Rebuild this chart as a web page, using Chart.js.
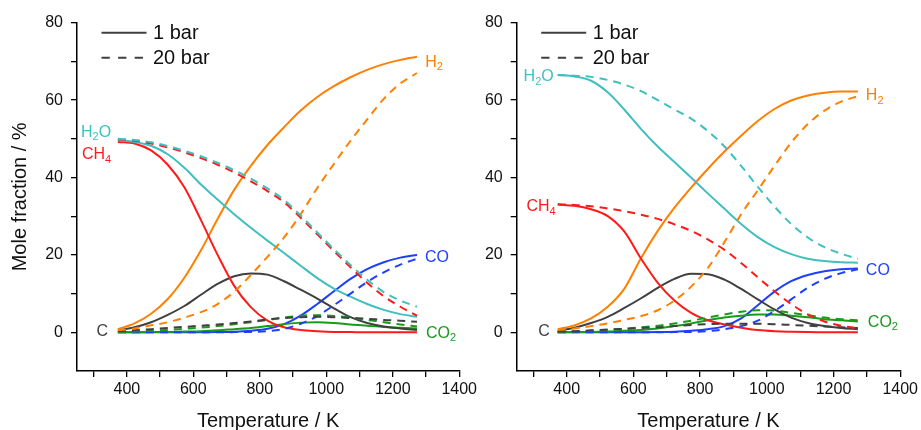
<!DOCTYPE html>
<html><head><meta charset="utf-8">
<script src="https://cdn.jsdelivr.net/npm/chart.js@4.4.1/dist/chart.umd.min.js"></script>
<style>
html,body{margin:0;padding:0;background:#fff;width:921px;height:430px;overflow:hidden}
canvas{position:absolute;top:0}
#cL{left:0}
#cR{left:460px}
</style></head><body>
<canvas id="cL" width="480" height="430"></canvas>
<canvas id="cR" width="461" height="430"></canvas>
<script>
// ---------- data (Temperature / K, Mole fraction / %) ----------
const temperature = [373,423,473,523,573,623,673,723,773,823,873,923,973,1023,1073,1123,1173,1223,1273];
const xTickValues = [300,400,500,600,700,800,900,1000,1100,1200,1300,1400];
const xTickLabels = [400,600,800,1000,1200,1400];
const yTickValues = [0,10,20,30,40,50,60,70,80];
const yTickLabels = [0,20,40,60,80];
const legendLabels = ['1 bar','20 bar'];

// left panel
const h2_1bar_L   = [0.8,2.3,4.8,8.6,14.1,21.2,29.3,36.8,43,48.4,53,57.3,60.8,63.6,65.9,67.8,69.3,70.4,71.2];
const h2_20bar_L  = [0.5,1,1.8,2.6,3.8,5.2,7.3,10.5,14.8,19.5,24.5,30.5,37.3,43.5,49.5,55,60.3,64.3,67];
const ch4_1bar_L  = [49.2,48.8,47,43.3,37.5,29,20,12,6.5,3,1.3,0.6,0.3,0.1,0.05,0,0,0,0];
const ch4_20bar_L = [49.9,49.5,48.8,47.8,46.5,45,43.3,41.3,39,36.5,33.6,29.6,25.3,21,16.8,12.8,9.3,6.6,4.3];
const h2o_1bar_L  = [49.7,49.2,48.2,46,42.5,38.2,34.3,30.5,27,23.7,20.5,17.2,14,11.3,9.2,7.3,5.8,4.7,4];
const h2o_20bar_L = [50,49.7,49.1,48.1,46.9,45.5,43.8,41.9,39.7,37.2,34.2,30.2,25.8,21.5,17.4,13.6,10.4,8.2,6.6];
const c_1bar_L    = [0.5,1.3,2.6,4.5,6.8,9.7,12.5,14.5,15.2,14.9,13.2,11,8.7,6.2,3.9,2.4,1.5,1,0.6];
const c_20bar_L   = [0.3,0.5,0.8,1.1,1.4,1.7,2,2.4,2.8,3.3,3.7,3.9,4,3.9,3.7,3.5,3.2,3,2.7];
const co_1bar_L   = [0,0,0,0,0,0.02,0.05,0.15,0.4,0.9,2.1,4.3,7.3,10.6,13.8,16.3,18.1,19.3,20];
const co_20bar_L  = [0,0,0,0,0,0,0.02,0.05,0.1,0.3,0.9,2.2,4.2,7,10,13,15.5,17.5,19];
const co2_1bar_L  = [0,0,0.05,0.1,0.2,0.3,0.5,0.8,1.1,1.6,2.1,2.5,2.6,2.4,2,1.7,1.4,1.2,1];
const co2_20bar_L = [0.1,0.2,0.4,0.6,0.9,1.2,1.6,2.1,2.6,3.2,3.8,4.3,4.4,4.2,3.8,3.2,2.6,2,1.5];

// right panel
const h2_1bar_R   = [0.8,1.8,3.6,6.6,11.3,19.2,26.2,32.2,37.4,42.2,46.7,50.8,54.6,57.7,59.9,61.2,61.9,62.2,62.2];
const h2_20bar_R  = [0.6,1,1.6,2.3,3.2,4.2,5.7,8.2,11.8,16.6,23.3,30.5,36.7,43,49,53.8,57.3,59.6,61];
const ch4_1bar_R  = [33,32.7,31.8,30,26,19,12.8,8.2,5,3.1,2,1.2,0.6,0.3,0.15,0.05,0,0,0];
const ch4_20bar_R = [33.1,32.9,32.6,32,31.3,30.4,29.3,27.9,26.2,24,21.3,17.9,14.2,10.6,7.3,4.6,2.8,1.7,1];
const h2o_1bar_R  = [66.5,66.1,65,62,57.5,52.5,48,44,40,35.9,31.9,28,24.6,22,20.2,19,18.4,18.1,18];
const h2o_20bar_R = [66.5,66.3,66,65.2,64,62.3,60,57.6,55.2,52,48,43,37.6,32.5,28,24.5,22,20.3,19];
const c_1bar_R    = [0.4,1.2,2.4,4,6.3,8.8,11.5,13.8,15.1,15,13.6,11.2,8.5,5.9,3.8,2.4,1.6,1.1,0.8];
const c_20bar_R   = [0.2,0.3,0.5,0.7,0.9,1.1,1.3,1.6,1.9,2.1,2.2,2.2,2.2,2.1,1.9,1.7,1.5,1.3,1.1];
const co_1bar_R   = [0,0,0,0,0,0.02,0.05,0.15,0.4,0.8,1.6,3.6,7,10.5,13.2,14.8,15.8,16.3,16.5];
const co_20bar_R  = [0,0,0,0,0,0,0.02,0.05,0.1,0.3,0.8,1.6,3,5.5,8.5,11.5,13.8,15.3,16.3];
const co2_1bar_R  = [0,0.05,0.1,0.2,0.4,0.6,1,1.6,2.3,3.1,3.8,4.3,4.6,4.6,4.3,3.9,3.4,3.1,2.8];
const co2_20bar_R = [0.1,0.2,0.4,0.6,0.9,1.3,1.7,2.3,3,3.8,4.6,5.3,5.7,5.6,5,4.4,3.8,3.4,3.1];

// ---------- styles ----------
const COL = {H2:'#FF8000', H2O:'#3FBFBF', CH4:'#FF1A1A', CO:'#1F3FFF', CO2:'#1A9A1A', C:'#404040'};
const FONT = "'Liberation Sans', Arial, Helvetica, sans-serif";
const DASH = [8,6];
Chart.defaults.font.family = FONT;
Chart.defaults.color = '#111';

function ds(name, values, dashed) {
  return {
    label: name + (dashed ? ' 20 bar' : ' 1 bar'),
    data: temperature.map((t,i)=>({x:t, y:values[i]})),
    borderColor: COL[name], backgroundColor: COL[name],
    borderWidth: 2, borderDash: dashed ? DASH : [],
    pointRadius: 0, cubicInterpolationMode: 'monotone', fill: false
  };
}

function labelPlugin(items) {
  return {
    id: 'speciesLabels',
    afterDatasetsDraw(chart) {
      const ctx = chart.ctx, xs = chart.scales.x, ys = chart.scales.y;
      ctx.save();
      ctx.textBaseline = 'middle';
      items.forEach(it => {
        const idx = it.end === 'first' ? 0 : temperature.length - 1;
        const ax = xs.getPixelForValue(temperature[idx]) + it.dx;
        const ay = ys.getPixelForValue(it.values[idx]) + it.dy;
        const mainF = '16px ' + FONT, subF = '11px ' + FONT;
        let w = 0;
        it.parts.forEach(p => { ctx.font = p.sub ? subF : mainF; w += ctx.measureText(p.t).width; });
        let x = it.align === 'right' ? ax - w : ax;
        ctx.fillStyle = it.color;
        ctx.textAlign = 'left';
        it.parts.forEach(p => {
          ctx.font = p.sub ? subF : mainF;
          ctx.fillText(p.t, x, p.sub ? ay + 5 : ay);
          x += ctx.measureText(p.t).width;
        });
      });
      ctx.restore();
    }
  };
}

const legendPlugin = {
  id: 'pressureLegend',
  afterDraw(chart) {
    const ctx = chart.ctx, a = chart.chartArea;
    ctx.save();
    [[legendLabels[0], []], [legendLabels[1], [8.3,8.3]]].forEach((item, i) => {
      const y = a.top + 10 + i * 25;
      ctx.strokeStyle = '#404040'; ctx.lineWidth = 2; ctx.setLineDash(item[1]);
      ctx.beginPath(); ctx.moveTo(a.left + 24.5, y); ctx.lineTo(a.left + 69.5, y); ctx.stroke();
      ctx.setLineDash([]);
      ctx.fillStyle = '#111'; ctx.font = '20px ' + FONT; ctx.textBaseline = 'middle'; ctx.textAlign = 'left';
      ctx.fillText(item[0], a.left + 76, y + 1);
    });
    ctx.restore();
  }
};

function makeChart(id, sets, yAxisWidth, showYTitle, labels) {
  return new Chart(document.getElementById(id), {
    type: 'line',
    data: { datasets: sets },
    plugins: [labelPlugin(labels), legendPlugin],
    options: {
      responsive: false, animation: false, devicePixelRatio: 1,
      layout: { padding: { top: 22.7, right: 20, bottom: 0, left: 0 } },
      plugins: { legend: { display: false }, tooltip: { enabled: false } },
      scales: {
        x: {
          type: 'linear', min: 250, max: 1400,
          afterBuildTicks: s => { s.ticks = xTickValues.map(v => ({value: v})); },
          afterFit: s => { s.height = 59; },
          ticks: { autoSkip: false, maxRotation: 0, padding: 3,
                   font: { size: 16 }, color: '#111',
                   callback: v => xTickLabels.includes(v) ? String(v) : '' },
          grid: { display: true, drawOnChartArea: false, drawTicks: true, tickLength: 6, color: '#000', lineWidth: 1.3 },
          border: { display: true, color: '#000', width: 1.5 },
          title: { display: true, text: 'Temperature / K', font: { size: 20, lineHeight: 1.2 }, color: '#111', padding: { top: 0, bottom: -3 } }
        },
        y: {
          type: 'linear', min: -10, max: 80,
          afterBuildTicks: s => { s.ticks = yTickValues.map(v => ({value: v})); },
          afterFit: s => { s.width = yAxisWidth; },
          ticks: { autoSkip: false, padding: 8, font: { size: 16 }, color: '#111',
                   callback: v => yTickLabels.includes(v) ? String(v) : '' },
          grid: { display: true, drawOnChartArea: false, drawTicks: true, tickLength: 6, color: '#000', lineWidth: 1.3 },
          border: { display: true, color: '#000', width: 1.5 },
          title: { display: showYTitle, text: 'Mole fraction / %', font: { size: 20, lineHeight: 1.2 }, color: '#111', padding: { top: 8, bottom: 0 } }
        }
      }
    }
  });
}

makeChart('cL', [
  ds('H2O', h2o_20bar_L, true), ds('CH4', ch4_20bar_L, true), ds('H2', h2_20bar_L, true),
  ds('C', c_20bar_L, true), ds('CO2', co2_20bar_L, true), ds('CO', co_20bar_L, true),
  ds('H2O', h2o_1bar_L, false), ds('CH4', ch4_1bar_L, false), ds('H2', h2_1bar_L, false),
  ds('C', c_1bar_L, false), ds('CO2', co2_1bar_L, false), ds('CO', co_1bar_L, false)
], 77, true, [
  { parts:[{t:'H'},{t:'2',sub:true}], color:COL.H2, values:h2_1bar_L, end:'last', dx:8.3, dy:5.7 },
  { parts:[{t:'CO'}], color:COL.CO, values:co_1bar_L, end:'last', dx:8, dy:2.6 },
  { parts:[{t:'CO'},{t:'2',sub:true}], color:COL.CO2, values:co2_1bar_L, end:'last', dx:9, dy:5 },
  { parts:[{t:'C'}], color:COL.C, values:c_1bar_L, end:'first', dx:-9.7, dy:1.6, align:'right' },
  { parts:[{t:'H'},{t:'2',sub:true},{t:'O'}], color:COL.H2O, values:h2o_1bar_L, end:'first', dx:-6.7, dy:-7.5, align:'right' },
  { parts:[{t:'CH'},{t:'4',sub:true}], color:COL.CH4, values:ch4_1bar_L, end:'first', dx:-6.7, dy:12.6, align:'right' }
]);

makeChart('cR', [
  ds('H2O', h2o_20bar_R, true), ds('CH4', ch4_20bar_R, true), ds('H2', h2_20bar_R, true),
  ds('C', c_20bar_R, true), ds('CO2', co2_20bar_R, true), ds('CO', co_20bar_R, true),
  ds('H2O', h2o_1bar_R, false), ds('CH4', ch4_1bar_R, false), ds('H2', h2_1bar_R, false),
  ds('C', c_1bar_R, false), ds('CO2', co2_1bar_R, false), ds('CO', co_1bar_R, false)
], 56.7, false, [
  { parts:[{t:'H'},{t:'2',sub:true}], color:COL.H2, values:h2_1bar_R, end:'last', dx:8, dy:4.4 },
  { parts:[{t:'CO'}], color:COL.CO, values:co_1bar_R, end:'last', dx:8, dy:2.6 },
  { parts:[{t:'CO'},{t:'2',sub:true}], color:COL.CO2, values:co2_1bar_R, end:'last', dx:10, dy:1 },
  { parts:[{t:'C'}], color:COL.C, values:c_1bar_R, end:'first', dx:-8, dy:1, align:'right' },
  { parts:[{t:'H'},{t:'2',sub:true},{t:'O'}], color:COL.H2O, values:h2o_1bar_R, end:'first', dx:-4, dy:2, align:'right' },
  { parts:[{t:'CH'},{t:'4',sub:true}], color:COL.CH4, values:ch4_1bar_R, end:'first', dx:-2, dy:2, align:'right' }
]);
</script>
</body></html>
